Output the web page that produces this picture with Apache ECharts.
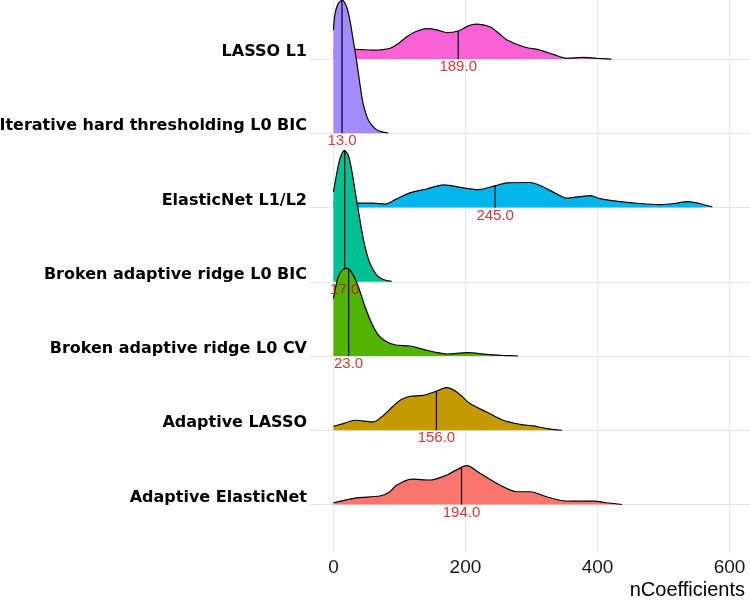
<!DOCTYPE html>
<html><head><meta charset="utf-8">
<script src="https://cdn.jsdelivr.net/npm/echarts@6/dist/echarts.min.js"></script>
<style>html,body{margin:0;padding:0;background:#fff}#c{width:750px;height:605px}</style>
</head><body><div id="c"></div>
<script>
// categories from bottom (y=1) to top (y=7)
const categories = ['Adaptive ElasticNet', 'Adaptive LASSO', 'Broken adaptive ridge L0 CV',
  'Broken adaptive ridge L0 BIC', 'ElasticNet L1/L2', 'Iterative hard thresholding L0 BIC', 'LASSO L1'];
const fillColors = ['#F8766D', '#C49A00', '#53B400', '#00C094', '#00B6EB', '#A58AFF', '#FB61D7'];
const medians = [194, 156, 23, 17, 245, 13, 189];
const xTicks = [0, 200, 400, 600];
const axisTitle = 'nCoefficients';

// density curves: [nCoefficients, ridge height in row units]
const densAdaptiveElasticNet = [[0,0.024],[35,0.09],[70.6,0.115],[85,0.17],[96,0.263],[118.6,0.343],[146,0.33],[171.7,0.397],[185,0.46],[202,0.523],[222,0.42],[252,0.263],[277.7,0.172],[298,0.172],[323,0.105],[348,0.051],[370,0.045],[394,0.047],[414,0.024],[437,0]];
const densAdaptiveLASSO = [[0,0.054],[15,0.09],[32.7,0.135],[60,0.112],[75.6,0.2],[90,0.32],[101,0.404],[116,0.458],[136,0.47],[155.5,0.525],[171.7,0.575],[186.8,0.516],[207,0.36],[232,0.246],[257,0.135],[283,0.08],[303,0.058],[323,0.023],[346,0]];
const densBrokenCV = [[0,0.777],[7.4,1.068],[15,1.17],[21.6,1.18],[30,1.09],[37.7,0.933],[47.9,0.664],[58,0.44],[68,0.283],[80.7,0.193],[94,0.148],[116,0.135],[136,0.09],[155,0.05],[172,0.027],[202,0.045],[232,0.023],[255,0.01],[280,0]];
const densBrokenBIC = [[0,1.21],[5,1.457],[10,1.66],[16.5,1.77],[22.6,1.70],[27.7,1.50],[32.7,1.23],[37.7,0.963],[42.9,0.69],[47.9,0.47],[55.5,0.245],[65.6,0.088],[75.6,0.03],[88,0.005]];
const densElasticNet = [[0,0.06],[20,0.06],[38,0.058],[60,0.058],[78,0.045],[96,0.117],[116,0.198],[141,0.25],[167,0.305],[197,0.265],[220,0.242],[246,0.296],[263,0.333],[298,0.337],[313,0.296],[338,0.184],[353,0.126],[374,0.148],[389,0.16],[404,0.12],[434,0.08],[464,0.054],[495,0.04],[517,0.054],[537,0.08],[555,0.054],[574,0.007]];
const densIterative = [[0,1.387],[2.4,1.61],[7.4,1.75],[13.5,1.79],[20,1.70],[25,1.52],[30,1.25],[35,0.98],[40,0.67],[45,0.40],[53,0.175],[63,0.063],[73,0.018],[83,0.004]];
const densLASSO = [[0,0.10],[10,0.11],[20,0.12],[33,0.13],[60,0.12],[86,0.145],[100,0.22],[111,0.30],[125,0.37],[141,0.41],[158,0.39],[172,0.355],[189,0.377],[205,0.45],[217,0.47],[237,0.435],[250,0.35],[263,0.256],[288,0.166],[313,0.12],[333,0.063],[353,0.01],[379,0.023],[399,0.01],[421,0]];

const densities = [densAdaptiveElasticNet, densAdaptiveLASSO, densBrokenCV, densBrokenBIC, densElasticNet, densIterative, densLASSO];

function interp(d, x) {
  for (let i = 1; i < d.length; i++) {
    if (x <= d[i][0]) {
      const t = (x - d[i-1][0]) / (d[i][0] - d[i-1][0]);
      return d[i-1][1] + t * (d[i][1] - d[i-1][1]);
    }
  }
  return d[d.length-1][1];
}

const series = [];
// draw from top row to bottom row so lower rows overlap
for (let idx = categories.length - 1; idx >= 0; idx--) {
  const k = idx + 1;
  const z = 2 + (categories.length - 1 - idx);
  const d = densities[idx];
  series.push({
    type: 'line', z: z, silent: true, smooth: 0.3, symbol: 'none',
    data: d.map(p => [p[0], k + p[1]]),
    lineStyle: { color: '#000', width: 1.2 },
    areaStyle: { color: fillColors[idx], opacity: 1, origin: k }
  });
  const m = medians[idx];
  series.push({
    type: 'line', z: z, silent: true, symbol: 'none',
    data: [[m, k], [m, k + interp(d, m)]],
    lineStyle: { color: '#000', width: 1.2 }
  });
}
// median value labels drawn on top of all ridges
for (let idx = categories.length - 1; idx >= 0; idx--) {
  const m = medians[idx];
  series.push({
    type: 'scatter', z: 20, silent: true, symbolSize: 1,
    itemStyle: { color: 'rgba(0,0,0,0)' },
    data: [[m, idx + 1]],
    label: { show: true, position: 'bottom', distance: 0, formatter: m.toFixed(1),
      color: '#d90000', fontSize: 15, fontFamily: 'Liberation Sans' }
  });
}

const chart = echarts.init(document.getElementById('c'), null, { renderer: 'canvas' });
chart.setOption({
  backgroundColor: '#fff',
  animation: false,
  title: { text: axisTitle, right: 5, top: 580, padding: 0,
    textStyle: { fontSize: 20, fontWeight: 'normal', color: '#000', fontFamily: 'Liberation Sans' } },
  grid: { left: 310, right: 0, top: 0, bottom: 52, containLabel: false, outerBoundsMode: 'none' },
  xAxis: {
    type: 'value', min: -35.5, max: 631,
    axisLine: { show: false },
    axisTick: { show: false, customValues: xTicks },
    axisLabel: { customValues: xTicks, fontSize: 19, color: '#1a1a1a', fontFamily: 'Liberation Sans', margin: 5 },
    splitLine: { show: true, lineStyle: { color: '#e6e6e6', width: 1.1 } }
  },
  yAxis: {
    type: 'value', min: 0.347, max: 7.795,
    axisLine: { show: false },
    axisTick: { show: false, customValues: [1, 2, 3, 4, 5, 6, 7] },
    axisLabel: { customValues: [1, 2, 3, 4, 5, 6, 7], formatter: v => categories[Math.round(v) - 1],
      fontSize: 16, fontWeight: 'bold', color: '#000', fontFamily: 'DejaVu Sans',
      verticalAlign: 'bottom', lineHeight: 14, margin: 3 },
    splitLine: { show: true, lineStyle: { color: '#e6e6e6', width: 1.1 } }
  },
  series: series
});
</script></body></html>
